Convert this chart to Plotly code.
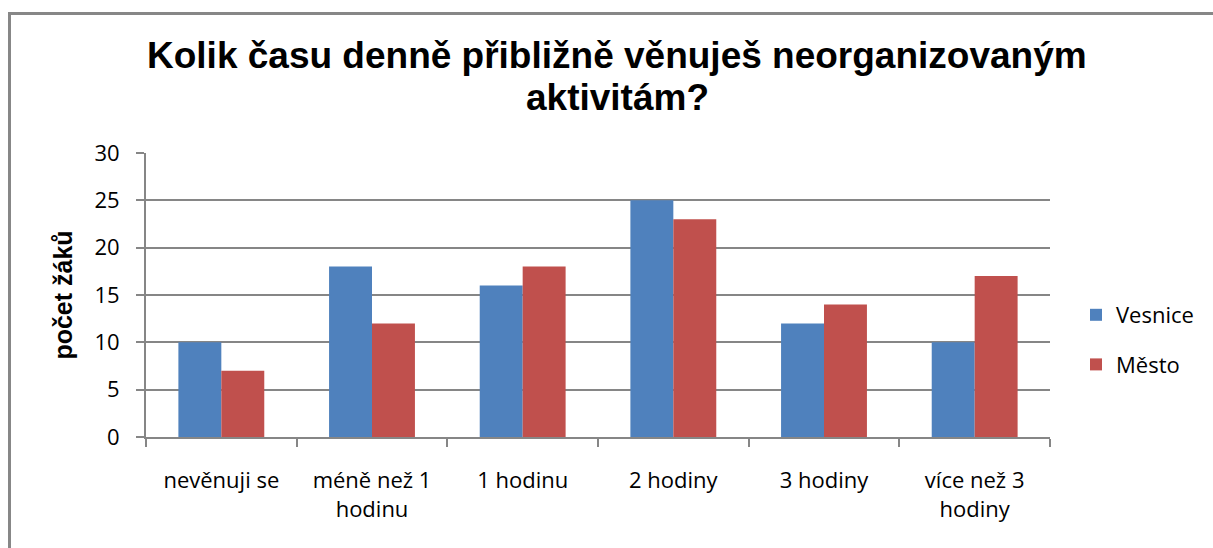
import plotly.graph_objects as go

categories = ["nevěnuji se", "méně než 1<br>hodinu", "1 hodinu", "2 hodiny", "3 hodiny", "více než 3<br>hodiny"]
vesnice = [10, 18, 16, 25, 12, 10]
mesto = [7, 12, 18, 23, 14, 17]
y_ticks = [0, 5, 10, 15, 20, 25, 30]
title_lines = ["Kolik času denně přibližně věnuješ neorganizovaným", "aktivitám?"]

W, H = 1213, 548
L, R, T, B = 146, 1050, 153, 437


def px_x(x):
    return (x - L) / (R - L)


def px_y(y):
    return (B - y) / (B - T)


TICK_FONT = dict(family="Open Sans, Liberation Sans, sans-serif", size=22, color="black")

fig = go.Figure()
fig.add_trace(go.Bar(name="Vesnice", x=categories, y=vesnice, legendgroup="v",
                     marker=dict(color="#4F81BD", line=dict(width=0))))
fig.add_trace(go.Bar(name="Město", x=categories, y=mesto, legendgroup="m",
                     marker=dict(color="#C0504D", line=dict(width=0))))

fig.update_layout(
    width=W, height=H,
    margin=dict(l=L, r=W - R, t=T, b=H - B, pad=0),
    paper_bgcolor="white", plot_bgcolor="white",
    barmode="group", bargap=0.43, bargroupgap=0,
    showlegend=True,
    legend=dict(x=px_x(1076), y=px_y(340), xanchor="left", yanchor="middle",
                font=dict(family="Open Sans, Liberation Sans, sans-serif", size=22, color="black"),
                traceorder="grouped", tracegroupgap=18, bgcolor="rgba(0,0,0,0)"),
    font=dict(family="Open Sans, Liberation Sans, sans-serif", size=22, color="black"),
)

TITLE_FONT = dict(family="Liberation Sans, Arial, sans-serif", size=37, color="black")
fig.add_annotation(text="<b>" + title_lines[0] + "</b>", xref="paper", yref="paper",
                   x=px_x(617), y=px_y(55), xanchor="center", yanchor="middle",
                   showarrow=False, font=TITLE_FONT)
fig.add_annotation(text="<b>" + title_lines[1] + "</b>", xref="paper", yref="paper",
                   x=px_x(617), y=px_y(97), xanchor="center", yanchor="middle",
                   showarrow=False, font=TITLE_FONT)

fig.update_xaxes(
    showgrid=False, showline=True, linecolor="#868686", linewidth=2,
    ticks="outside", ticklen=8, tickcolor="#868686", tickwidth=2,
    tickson="boundaries", ticklabelstandoff=23,
    tickfont=TICK_FONT,
)
fig.update_yaxes(
    range=[0, 30], tickvals=y_ticks, showgrid=True, gridcolor="#868686", gridwidth=2,
    showline=True, linecolor="#868686", linewidth=2,
    ticks="outside", ticklen=8, tickcolor="#868686", tickwidth=2,
    zeroline=False, ticklabelstandoff=12,
    tickfont=TICK_FONT,
    title=dict(text="<b>počet žáků</b>", standoff=15,
               font=dict(family="Liberation Sans, Arial, sans-serif", size=25, color="black")),
)

fig.add_shape(type="rect", xref="paper", yref="paper",
              x0=px_x(9.5), x1=px_x(1240),
              y0=px_y(580), y1=px_y(13.5),
              line=dict(color="#878787", width=3), fillcolor="rgba(0,0,0,0)", layer="below")

fig.write_html(
    "out.html",
    config={"displayModeBar": False},
    post_script="document.body.style.margin='0';document.body.style.overflow='hidden';",
)
